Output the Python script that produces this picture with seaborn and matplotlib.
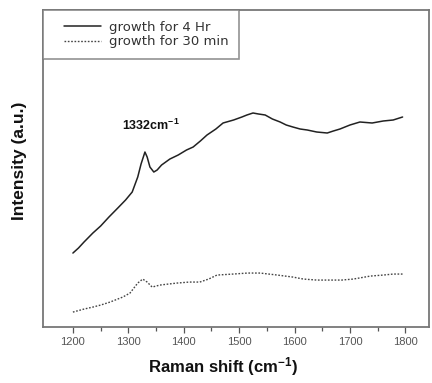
import numpy as np
import pandas as pd
import matplotlib
matplotlib.use("Agg")
import matplotlib.pyplot as plt
from matplotlib.lines import Line2D
from matplotlib.legend_handler import HandlerLine2D
import seaborn as sns

# Raman shift (cm^-1) and intensity (a.u.)
x_4hr = [1200, 1210, 1220, 1236, 1250, 1265, 1281, 1295, 1307, 1317, 1323, 1330,
         1334, 1339, 1346, 1352, 1360, 1375, 1390, 1405, 1417, 1430, 1442, 1458,
         1471, 1490, 1505, 1514, 1525, 1535, 1547, 1560, 1574, 1585, 1597, 1610,
         1623, 1640, 1659, 1670, 1682, 1700, 1718, 1740, 1760, 1778, 1795]
y_4hr = [74, 79, 85, 94, 101, 110, 119, 127, 135, 150, 163, 175,
         170, 160, 155, 157, 162, 168, 172, 177, 180, 186, 192, 198,
         204, 207, 210, 212, 214, 213, 212, 208, 205, 202, 200, 198,
         197, 195, 194, 196, 198, 202, 205, 204, 206, 207, 210]

x_30min = [1200, 1220, 1236, 1250, 1267, 1290, 1303, 1317, 1326, 1334, 1343,
           1357, 1372, 1388, 1410, 1429, 1445, 1460, 1489, 1515, 1538, 1569,
           1597, 1616, 1640, 1659, 1685, 1706, 1737, 1760, 1778, 1796]
y_30min = [15, 18, 20, 22, 25, 30, 34, 44, 48, 45, 40,
           42, 43, 44, 45, 45, 48, 52, 53, 54, 54, 52,
           50, 48, 47, 47, 47, 48, 51, 52, 53, 53]

labels = ["growth for 4 Hr", "growth for 30 min"]
xticks = [1200, 1300, 1400, 1500, 1600, 1700, 1800]

df4 = pd.DataFrame({"x": x_4hr, "y": y_4hr})
df30 = pd.DataFrame({"x": x_30min, "y": y_30min})

sns.set_style("white")
plt.rcParams["font.family"] = ["Liberation Sans", "DejaVu Sans"]
plt.rcParams["mathtext.fontset"] = "custom"
plt.rcParams["mathtext.bf"] = "Liberation Sans:bold"
plt.rcParams["mathtext.rm"] = "Liberation Sans:bold"
plt.rcParams["mathtext.default"] = "bf"

fig = plt.figure(figsize=(4.32, 3.83), dpi=100)
ax = fig.add_axes([0.0995, 0.146, 0.894, 0.828])

sns.lineplot(data=df4, x="x", y="y", ax=ax, color="#222222", lw=1.1,
             label=labels[0])
sns.lineplot(data=df30, x="x", y="y", ax=ax, color="#444444", lw=1.0,
             linestyle=(0, (1.2, 1.2)), label=labels[1])

ax.set_xlim(1146, 1843)
ax.set_ylim(0, 317)
ax.set_xticks(xticks)
ax.set_xticklabels([str(t) for t in xticks])
ax.set_xticks([t + 50 for t in xticks[:-1]], minor=True)
ax.set_yticks([])
ax.tick_params(axis="x", which="both", direction="out", bottom=True,
               colors="#555555", labelsize=8, width=0.9, pad=3)
ax.tick_params(axis="x", which="major", length=4)
ax.tick_params(axis="x", which="minor", length=3)
for s in ax.spines.values():
    s.set_color("#777777")
    s.set_linewidth(1.3)

ax.set_xlabel(r"Raman shift (cm$^{-1}$)", fontsize=12, fontweight="bold",
              color="#111111")
ax.xaxis.label.set_va("center")
ax.xaxis.set_label_coords(0.466, -0.123)
ax.set_ylabel("Intensity (a.u.)", fontsize=12.5, fontweight="bold",
              color="#111111")
ax.yaxis.label.set_va("center")
ax.yaxis.set_label_coords(-0.062, 0.524)

ax.text(1340, 202, r"1332cm$^{-1}$", fontsize=9, fontweight="bold",
        ha="center", va="center", color="#111111")

leg = ax.legend(loc="upper left", borderaxespad=0, frameon=True,
                fancybox=False, prop={"family": "DejaVu Sans", "size": 9.5},
                handlelength=3.59, handletextpad=0.6, borderpad=0.8,
                labelspacing=0.15,
                handler_map={Line2D: HandlerLine2D(xpad=0.79)})
leg.get_frame().set_edgecolor("#777777")
leg.get_frame().set_linewidth(1.2)
for t in leg.get_texts():
    t.set_color("#333333")

fig.savefig("out.png", dpi=100)
